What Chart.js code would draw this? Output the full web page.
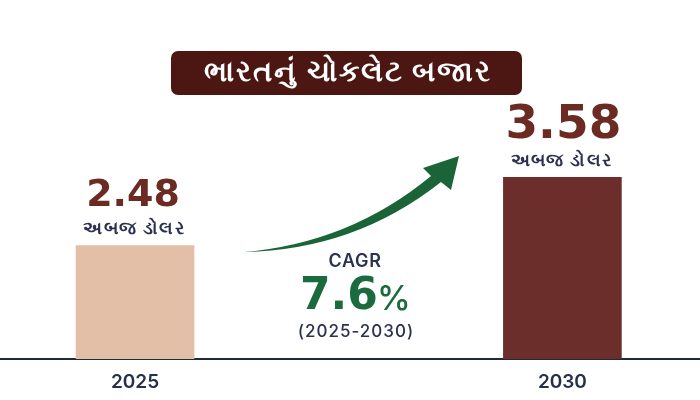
<!DOCTYPE html>
<html>
<head>
<meta charset="utf-8">
<style>
  html, body { margin: 0; padding: 0; background: #fff; }
  #wrap { width: 700px; height: 400px; }
</style>
<script src="https://cdn.jsdelivr.net/npm/chart.js@4"></script>
</head>
<body>
<div id="wrap"><canvas id="marketChart"></canvas></div>
<script>
// data
const years = [2025, 2030];
const marketValues = [2.48, 3.58];
const valueLabels = ['2.48', '3.58'];
const barColors = ['#e3bfa8', '#6b2e2a'];
const valueFontSizes = [38, 47];

const chartTitle = 'ભારતનું ચોકલેટ બજાર';
const unitLabel = 'અબજ ડોલર';
const cagrLabel = 'CAGR';
const cagrValue = '7.6';
const cagrPeriod = '(2025-2030)';

const FONT = "Inter, 'Noto Sans', sans-serif";
const NUM_FONT = "'DejaVu Sans', sans-serif";

function drawTitle(ctx) {
    ctx.save();
    ctx.fillStyle = '#4c1712';
    ctx.beginPath();
    ctx.roundRect(171, 51, 351, 44, 7);
    ctx.fill();
    ctx.fillStyle = '#fff';
    ctx.font = 'bold 29px ' + FONT;
    ctx.letterSpacing = '2px';
    ctx.textAlign = 'center';
    ctx.textBaseline = 'middle';
    ctx.fillText(chartTitle, 348, 72);
    ctx.restore();
}

function drawArrow(ctx) {
    ctx.save();
    ctx.fillStyle = '#1b6438';
    ctx.beginPath();
    ctx.moveTo(244, 252);
    ctx.quadraticCurveTo(350, 243, 431, 176);
    ctx.lineTo(423, 168);
    ctx.lineTo(459, 156);
    ctx.lineTo(451, 190);
    ctx.lineTo(441, 182);
    ctx.quadraticCurveTo(355, 250, 244, 252);
    ctx.closePath();
    ctx.fill();
    ctx.restore();
}

function drawCagr(ctx) {
    ctx.save();
    ctx.textBaseline = 'middle';
    ctx.textAlign = 'center';
    ctx.fillStyle = '#2c3150';
    ctx.font = '600 18px ' + FONT;
    ctx.letterSpacing = '0.7px';
    ctx.fillText(cagrLabel, 355, 262);
    ctx.font = '500 17px ' + FONT;
    ctx.letterSpacing = '1px';
    ctx.fillText(cagrPeriod, 356, 332);

    ctx.letterSpacing = '0px';
    ctx.textAlign = 'left';
    ctx.fillStyle = '#1b6b3f';
    ctx.font = 'bold 44px ' + NUM_FONT;
    ctx.fillText(cagrValue, 300, 298);
    ctx.font = '500 34px ' + FONT;
    ctx.fillText('%', 377, 300);
    ctx.restore();
}

// value and unit text sit on top of each bar, so they follow the scales
const barLabels = {
    id: 'barLabels',
    afterDatasetsDraw(chart) {
        const ctx = chart.ctx;
        const meta = chart.getDatasetMeta(0);
        ctx.save();
        ctx.textAlign = 'center';
        ctx.textBaseline = 'middle';
        meta.data.forEach((bar, i) => {
            ctx.fillStyle = '#6b2a22';
            ctx.letterSpacing = '0px';
            ctx.font = 'bold ' + valueFontSizes[i] + 'px ' + NUM_FONT;
            ctx.fillText(valueLabels[i], bar.x + (i === 0 ? -2 : 1), bar.y - (i === 0 ? 49 : 52));
            ctx.fillStyle = '#2c3150';
            ctx.letterSpacing = '1.3px';
            ctx.font = '600 18px ' + FONT;
            ctx.fillText(unitLabel, bar.x - 1, bar.y - 17);
        });
        ctx.restore();
    },
    afterDraw(chart) {
        drawTitle(chart.ctx);
        drawArrow(chart.ctx);
        drawCagr(chart.ctx);
    }
};

new Chart(document.getElementById('marketChart'), {
    type: 'bar',
    data: {
        datasets: [{
            data: years.map((y, i) => ({ x: y, y: marketValues[i] })),
            backgroundColor: barColors,
            barThickness: 118
        }]
    },
    options: {
        responsive: true,
        maintainAspectRatio: false,
        animation: false,
        layout: { padding: { left: 0, right: 0, top: 0, bottom: 0 } },
        plugins: {
            legend: { display: false },
            tooltip: { enabled: false },
            title: { display: false }
        },
        scales: {
            x: {
                type: 'linear',
                offset: false,
                min: 2023.42,
                max: 2031.61,
                afterBuildTicks(axis) {
                    axis.ticks = years.map(y => ({ value: y }));
                },
                afterFit(axis) {
                    axis.height = 41;
                },
                grid: { display: false, drawTicks: false },
                border: { display: true, color: '#1f2a3d', width: 2 },
                ticks: {
                    autoSkip: false,
                    maxRotation: 0,
                    padding: 12,
                    color: '#26304a',
                    font: { family: FONT, size: 19, weight: '600' },
                    callback: v => String(v)
                }
            },
            y: {
                display: false,
                min: 0.65,
                max: 6.44,
                grid: { display: false }
            }
        }
    },
    plugins: [barLabels]
});
</script>
</body>
</html>
